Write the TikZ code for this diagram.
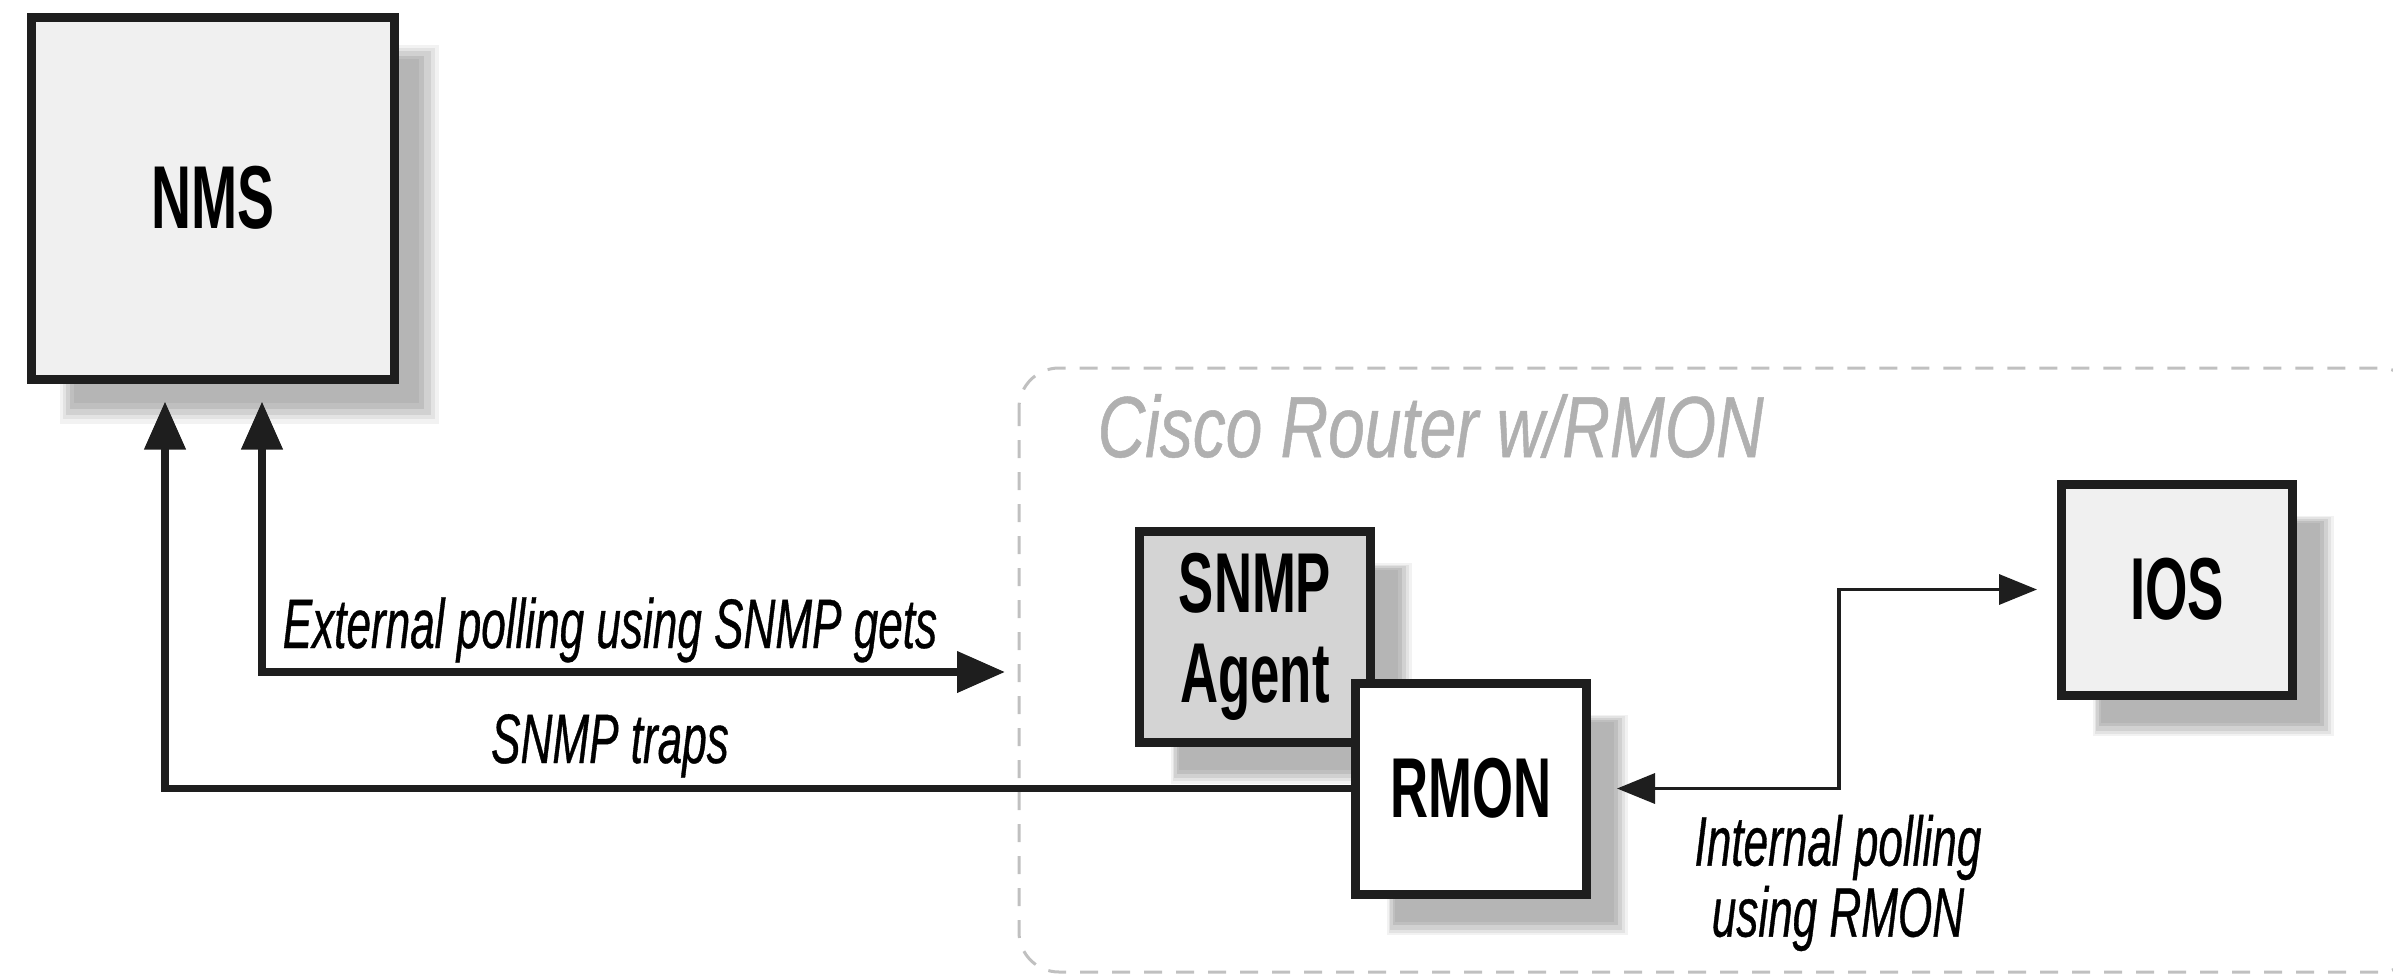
\documentclass[tikz,border=0pt]{standalone}
\usepackage{fontspec}
\usetikzlibrary{arrows.meta,shadows}
\newfontfamily\boxfont{Liberation Sans}[FakeStretch=0.62]
\newfontfamily\labelfont{Liberation Sans}[FakeStretch=0.63,FakeBold=0.5]
\newfontfamily\titlefont{Liberation Sans}[FakeStretch=0.76,FakeBold=0.6]
\definecolor{boxline}{HTML}{1E1E1E}
\definecolor{lightfill}{HTML}{F0F0F0}
\definecolor{agentfill}{HTML}{D4D4D4}
\definecolor{titlegray}{HTML}{B0B0B0}
\definecolor{dashgray}{HTML}{C0C0C0}
\begin{document}
\begin{tikzpicture}[x=0.3pt,y=-0.3pt,
  softshadow/.style={
    general shadow={shadow xshift=10.5pt, shadow yshift=-10.5pt, shadow scale=1.045, fill=black!5},
    general shadow={shadow xshift=10.5pt, shadow yshift=-10.5pt, shadow scale=1.025, fill=black!11},
    general shadow={shadow xshift=10.5pt, shadow yshift=-10.5pt, shadow scale=1.005, fill=black!18},
    general shadow={shadow xshift=10.5pt, shadow yshift=-10.5pt, shadow scale=0.975, fill=black!25},
    general shadow={shadow xshift=10.5pt, shadow yshift=-10.5pt, shadow scale=0.95, fill=black!29}},
  unit/.style={draw=boxline, line width=2.7pt, inner sep=0pt, softshadow, align=center,
    font=\boxfont\bfseries\fontsize{25.5pt}{27pt}\selectfont,
    minimum width=69.3pt, minimum height=63.3pt},
  bigflow/.style={draw=boxline, line width=2.25pt},
  bigtip/.style={-{Triangle[length=14.4pt,width=12pt]}},
  bigboth/.style={{Triangle[length=14.4pt,width=12pt]}-{Triangle[length=14.4pt,width=12pt]}},
  thinflow/.style={draw=boxline, line width=1.05pt,
    {Triangle[length=11.4pt,width=9pt]}-{Triangle[length=11.4pt,width=9pt]}},
  flowlabel/.style={inner sep=0pt, font=\labelfont\itshape\fontsize{21pt}{21.3pt}\selectfont},
  container/.style={draw=dashgray, line width=0.9pt, dash pattern=on 5.4pt off 4.2pt, rounded corners=12pt}
]
\useasboundingbox (0,0) rectangle (2393,977);
% router container
\draw[container] (1019,368) rectangle (2420,972);
\node[anchor=base west, inner sep=0pt, text=titlegray,
  font=\titlefont\itshape\fontsize{26pt}{28pt}\selectfont] (title) at (1097,457) {Cisco Router w/RMON};
% boxes
\node[unit, fill=lightfill, minimum width=108.9pt, minimum height=108.6pt,
  font=\boxfont\bfseries\fontsize{26.8pt}{28pt}\selectfont] (nms) at (213,198) {NMS};
\node[unit, fill=agentfill] (agent) at (1255,637) {SNMP\\Agent};
\node[unit, fill=white] (rmon) at (1471,788.5) {RMON};
\node[unit, fill=lightfill, font=\boxfont\bfseries\fontsize{26.4pt}{28pt}\selectfont] (ios) at (2177,589.5) {IOS};
% connectors
\coordinate (extend) at (1005,672);
\draw[bigflow, bigtip, shorten >=5.4pt] (rmon.west) -| ([xshift=-14.4pt]nms.south);
\draw[bigflow, bigboth, shorten >=5.4pt] (extend) -| ([xshift=14.7pt]nms.south);
\draw[thinflow, shorten <=7.8pt, shorten >=6pt] (rmon.east) -- ++(248,0) |- (ios.west);
% labels
\node[flowlabel, anchor=base] (extlabel) at (610,648) {External polling using SNMP gets};
\node[flowlabel, anchor=base] (traplabel) at (610,763) {SNMP traps};
\node[flowlabel, align=center] (intlabel) at (1838,883) {Internal polling\\using RMON};
\end{tikzpicture}
\end{document}
